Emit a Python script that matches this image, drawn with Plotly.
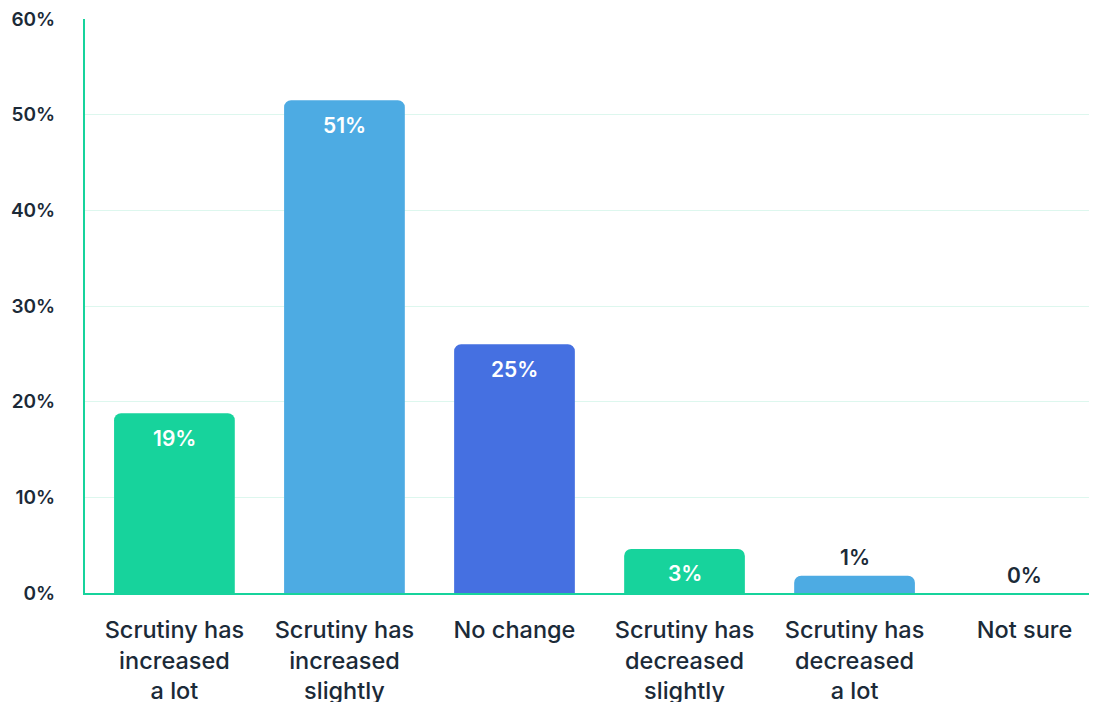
import plotly.graph_objects as go

categories = [
    "Scrutiny has<br>increased<br>a lot",
    "Scrutiny has<br>increased<br>slightly",
    "No change",
    "Scrutiny has<br>decreased<br>slightly",
    "Scrutiny has<br>decreased<br>a lot",
    "Not sure",
]
values = [18.8, 51.5, 26.0, 4.6, 1.8, 0.0]
labels = ["19%", "51%", "25%", "3%", "1%", "0%"]
colors = ["#17D39C", "#4DABE3", "#4570E1", "#17D39C", "#4DABE3", "#4570E1"]
y_ticks = [0, 10, 20, 30, 40, 50, 60]
y_ticktext = ["0%", "10%", "20%", "30%", "40%", "50%", "60%"]

FONT = "Inter"
DARK = "#1B2A38"

fig = go.Figure()
fig.add_trace(go.Bar(
    x=list(range(len(categories))),
    y=values,
    marker=dict(color=colors, line=dict(width=0), cornerradius=7),
    hoverinfo="skip",
))

annotations = []
for i, (v, lab) in enumerate(zip(values, labels)):
    inside = v >= 3
    annotations.append(dict(
        x=i, y=v, xref="x", yref="y", text=lab, showarrow=False,
        yanchor="middle", yshift=-25 if inside else 18,
        font=dict(family=FONT, size=21, color="white" if inside else DARK, weight=600),
    ))

fig.update_layout(
    width=1089, height=694,
    margin=dict(l=77, r=0, t=11, b=109, autoexpand=False),
    paper_bgcolor="white", plot_bgcolor="white",
    bargap=0.29,
    showlegend=False,
    annotations=annotations,
    xaxis=dict(
        range=[-0.526, 5.426],
        tickmode="array", tickvals=list(range(len(categories))), ticktext=categories,
        tickfont=dict(family=FONT, size=23.5, color=DARK, weight=500),
        showgrid=False, zeroline=False,
        showline=True, linecolor="#17D39C", linewidth=2,
        ticks="", ticklabelstandoff=15, automargin=False,
    ),
    yaxis=dict(
        range=[0, 60],
        tickmode="array", tickvals=y_ticks, ticktext=y_ticktext,
        tickfont=dict(family=FONT, size=19, color=DARK, weight=600),
        showgrid=True, gridcolor="#DDF7EE", gridwidth=1,
        zeroline=False,
        showline=True, linecolor="#17D39C", linewidth=2,
        ticks="", ticklabelstandoff=24, ticklabeloverflow="allow", automargin=False,
    ),
)

fig.write_html("out.html")
